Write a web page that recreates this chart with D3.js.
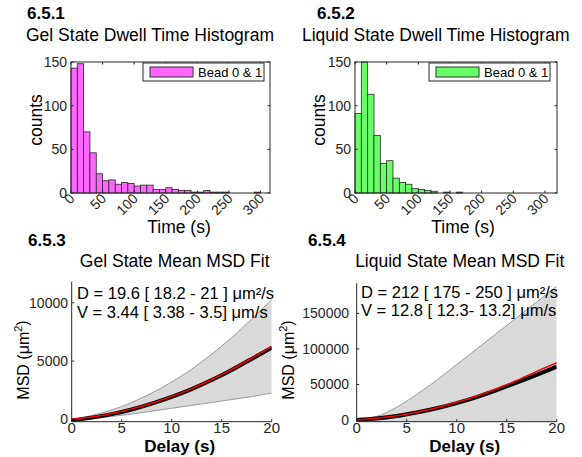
<!DOCTYPE html>
<html>
<head>
<meta charset="utf-8">
<script src="https://cdn.jsdelivr.net/npm/d3@7"></script>
<style>
  body { margin: 0; background: #fff; }
  svg text { font-family: "Liberation Sans", Arial, sans-serif; fill: #262626; }
</style>
</head>
<body>
<svg id="fig" width="582" height="457"></svg>
<script>
// ---- data ----
// dwell time histograms, 10 s bins starting at 0
const binWidth = 10;
const gelCounts = [143, 148, 70, 46, 22, 14, 15, 10, 12, 11, 8, 9, 9, 4, 4, 6, 4, 3, 3, 1, 1, 3, 1, 1, 1, 0, 0, 0, 0, 1, 0];
const liqCounts = [91, 150, 113, 66, 34, 37, 17, 12, 10, 5, 4, 3, 2, 0, 1, 0, 1, 0, 0, 0, 0, 0, 0, 0, 0, 0, 0, 0, 0, 0, 0];
const histXTicks = [0, 50, 100, 150, 200, 250, 300];
const histYTicks = [0, 50, 100, 150];

// MSD curves, sampled every 2 s
const delay    = [0, 2, 4, 6, 8, 10, 12, 14, 16, 18, 20];
const gelMean  = [-100, 150, 450, 850, 1350, 1930, 2600, 3370, 4230, 5180, 6150];
const gelFit   = [0, 200, 500, 900, 1380, 1970, 2640, 3420, 4280, 5240, 6250];
const gelUpper = [0, 330, 800, 1450, 2250, 3200, 4300, 5600, 7000, 8600, 10250];
const gelLower = [0, 50, 250, 450, 700, 950, 1200, 1450, 1700, 1950, 2250];
const liqMean  = [0, 2000, 5500, 10500, 16500, 23800, 32300, 42000, 52500, 63500, 75000];
const liqFit   = [0, 2400, 6000, 11000, 17300, 24900, 33800, 44000, 55500, 68300, 80500];
const liqUpper = [0, 5000, 18000, 36000, 56000, 78000, 100000, 122000, 144000, 166000, 188000];
const liqLower = [0, -2000, -5000, -9000, -13000, -18000, -23000, -28000, -33000, -38000, -43000];
const msdXTicks = [0, 5, 10, 15, 20];
const gelYTicks = [0, 5000, 10000];
const liqYTicks = [0, 50000, 100000, 150000];

const svg = d3.select("#fig");

function label(x, y, txt, size, opts = {}) {
  return svg.append("text")
    .attr("x", x).attr("y", y)
    .attr("font-size", size)
    .attr("font-weight", opts.bold ? "bold" : null)
    .attr("text-anchor", opts.anchor || "start")
    .style("fill", opts.fill || "#000")
    .text(txt);
}

function histPanel(p) {
  const x = d3.scaleLinear().domain([0, p.xmax]).range([p.left, p.right]);
  const y = d3.scaleLinear().domain([0, 150]).range([p.bottom, p.top]);
  const g = svg.append("g");

  g.selectAll("rect.bar")
    .data(p.counts).enter()
    .append("rect")
    .attr("class", "bar")
    .attr("x", (d, i) => x(i * binWidth))
    .attr("width", (d, i) => x((i + 1) * binWidth) - x(i * binWidth))
    .attr("y", d => y(d))
    .attr("height", d => y(0) - y(d))
    .attr("fill", p.color)
    .attr("stroke", "#2a2a2a")
    .attr("stroke-width", 0.8)
    .attr("display", d => d > 0 ? null : "none");

  // box
  g.append("rect")
    .attr("x", p.left).attr("y", p.top)
    .attr("width", p.right - p.left).attr("height", p.bottom - p.top)
    .attr("fill", "none").attr("stroke", "#262626").attr("stroke-width", 1);

  // ticks (inward, all four sides)
  histXTicks.forEach(t => {
    g.append("line").attr("x1", x(t)).attr("x2", x(t)).attr("y1", p.bottom).attr("y2", p.bottom - 2.5).attr("stroke", "#262626");
    g.append("line").attr("x1", x(t)).attr("x2", x(t)).attr("y1", p.top).attr("y2", p.top + 2.5).attr("stroke", "#262626");
    g.append("text")
      .attr("transform", `translate(${x(t) + 1},196) rotate(-45)`)
      .attr("text-anchor", "end").attr("dy", "0.35em")
      .attr("font-size", 14).text(t);
  });
  histYTicks.forEach(t => {
    g.append("line").attr("x1", p.left).attr("x2", p.left + 2.5).attr("y1", y(t)).attr("y2", y(t)).attr("stroke", "#262626");
    g.append("line").attr("x1", p.right).attr("x2", p.right - 2.5).attr("y1", y(t)).attr("y2", y(t)).attr("stroke", "#262626");
    g.append("text")
      .attr("x", p.left - 4).attr("y", y(t)).attr("dy", "0.35em")
      .attr("text-anchor", "end").attr("font-size", 14).text(t);
  });

  // legend
  const lg = svg.append("g").attr("transform", `translate(${p.legX},63)`);
  lg.append("rect").attr("width", 121).attr("height", 18).attr("fill", "#fff").attr("stroke", "#262626");
  lg.append("rect").attr("x", 7).attr("y", 4).attr("width", 43).attr("height", 10).attr("fill", p.color).attr("stroke", "#333");
  lg.append("text").attr("x", 55).attr("y", 14).attr("font-size", 13).style("fill", "#000").text("Bead 0 & 1");

  label(p.tagX, 18.5, p.tag, 17, { bold: true });
  label(p.titleX, 40.5, p.title, 17.5);
  label(p.xlabX, 233, "Time (s)", 17.5, { anchor: "middle" });
  svg.append("text")
    .attr("transform", `translate(${p.ylabX},120) rotate(-90)`)
    .attr("text-anchor", "middle").attr("dy", "0.3em")
    .attr("font-size", 17.5).style("fill", "#000").text("counts");
}

function msdPanel(p) {
  const x = d3.scaleLinear().domain([0, 20]).range([p.left, p.right]);
  const y = d3.scaleLinear().domain(p.ydom).range([p.bottom, p.top]);
  const g = svg.append("g");
  const clipId = "clip" + p.tag.replace(/\./g, "");
  svg.append("clipPath").attr("id", clipId)
    .append("rect").attr("x", p.left).attr("y", p.top)
    .attr("width", p.right - p.left).attr("height", p.bottom - p.top);
  const plot = g.append("g").attr("clip-path", `url(#${clipId})`);

  const rows = delay.map((t, i) => ({ t, mean: p.mean[i], fit: p.fit[i], up: p.upper[i], lo: p.lower[i] }));
  const area = d3.area().x(d => x(d.t)).y0(d => y(d.lo)).y1(d => y(d.up)).curve(d3.curveMonotoneX);
  const line = key => d3.line().x(d => x(d.t)).y(d => y(d[key])).curve(d3.curveMonotoneX);

  plot.append("path").datum(rows).attr("d", area).attr("fill", "#d9d9d9");
  plot.append("path").datum(rows).attr("d", line("up")).attr("fill", "none").attr("stroke", "#9a9a9a").attr("stroke-width", 1);
  plot.append("path").datum(rows).attr("d", line("lo")).attr("fill", "none").attr("stroke", "#9a9a9a").attr("stroke-width", 1);
  plot.append("path").datum(rows).attr("d", line("mean")).attr("fill", "none").attr("stroke", "#000").attr("stroke-width", 4);
  plot.append("path").datum(rows).attr("d", line("fit")).attr("fill", "none").attr("stroke", "#ff0000").attr("stroke-width", 1.5);

  // axes lines (box off)
  g.append("line").attr("x1", p.left).attr("x2", p.left).attr("y1", p.top).attr("y2", p.bottom).attr("stroke", "#262626");
  g.append("line").attr("x1", p.left).attr("x2", p.right).attr("y1", p.bottom).attr("y2", p.bottom).attr("stroke", "#262626");

  msdXTicks.forEach(t => {
    g.append("line").attr("x1", x(t)).attr("x2", x(t)).attr("y1", p.bottom).attr("y2", p.bottom - 2.5).attr("stroke", "#262626");
    g.append("text").attr("x", x(t)).attr("y", 428).attr("dy", "0.35em")
      .attr("text-anchor", "middle").attr("font-size", 15).text(t);
  });
  p.yticks.forEach(t => {
    g.append("line").attr("x1", p.left).attr("x2", p.left + 2.5).attr("y1", y(t)).attr("y2", y(t)).attr("stroke", "#262626");
    g.append("text").attr("x", p.ytickX).attr("y", y(t)).attr("dy", "0.35em")
      .attr("text-anchor", "end").attr("font-size", 14).text(t);
  });

  label(p.tagX, 245.5, p.tag, 17, { bold: true });
  label((p.left + p.right) / 2 + 3, 266.5, p.title, 17.5, { anchor: "middle" });
  label((p.left + p.right) / 2 + 8, 452, "Delay (s)", 17, { anchor: "middle", bold: true });
  const yl = svg.append("text")
    .attr("transform", `translate(${p.ylabX},360) rotate(-90)`)
    .attr("text-anchor", "middle").attr("dy", "0.35em")
    .attr("font-size", 16).style("fill", "#000");
  yl.append("tspan").text("MSD (μm");
  yl.append("tspan").attr("font-size", 11).attr("dy", "-0.6em").text("2");
  yl.append("tspan").attr("dy", "0.4em").text(")");

  label(p.textX, p.textY, p.dText, 16.5);
  label(p.textX, p.textY + 18.5, p.vText, 16.5);
}

histPanel({
  left: 71, right: 270, top: 62, bottom: 193, xmax: 315,
  counts: gelCounts, color: "#ff66ff",
  tag: "6.5.1", tagX: 27, title: "Gel State Dwell Time Histogram", titleX: 26,
  xlabX: 179, ylabX: 37, legX: 143
});
histPanel({
  left: 355, right: 557, top: 62, bottom: 193, xmax: 319,
  counts: liqCounts, color: "#66ff66",
  tag: "6.5.2", tagX: 317, title: "Liquid State Dwell Time Histogram", titleX: 302,
  xlabX: 463, ylabX: 320, legX: 429
});
msdPanel({
  left: 71.7, right: 271.7, top: 281.7, bottom: 421.7, ydom: [-200, 11800],
  mean: gelMean, fit: gelFit, upper: gelUpper, lower: gelLower,
  yticks: gelYTicks, ytickX: 68,
  tag: "6.5.3", tagX: 28, title: "Gel State Mean MSD Fit", ylabX: 23,
  textX: 77, textY: 299,
  dText: "D = 19.6 [ 18.2 - 21 ] μm²/s", vText: "V = 3.44 [ 3.38 - 3.5] μm/s"
});
msdPanel({
  left: 356.7, right: 556.7, top: 283.3, bottom: 421.7, ydom: [-2400, 192300],
  mean: liqMean, fit: liqFit, upper: liqUpper, lower: liqLower,
  yticks: liqYTicks, ytickX: 349,
  tag: "6.5.4", tagX: 308, title: "Liquid State Mean MSD Fit", ylabX: 288,
  textX: 361, textY: 297.5,
  dText: "D = 212 [ 175 - 250 ] μm²/s", vText: "V = 12.8 [ 12.3- 13.2] μm/s"
});
</script>
</body>
</html>
